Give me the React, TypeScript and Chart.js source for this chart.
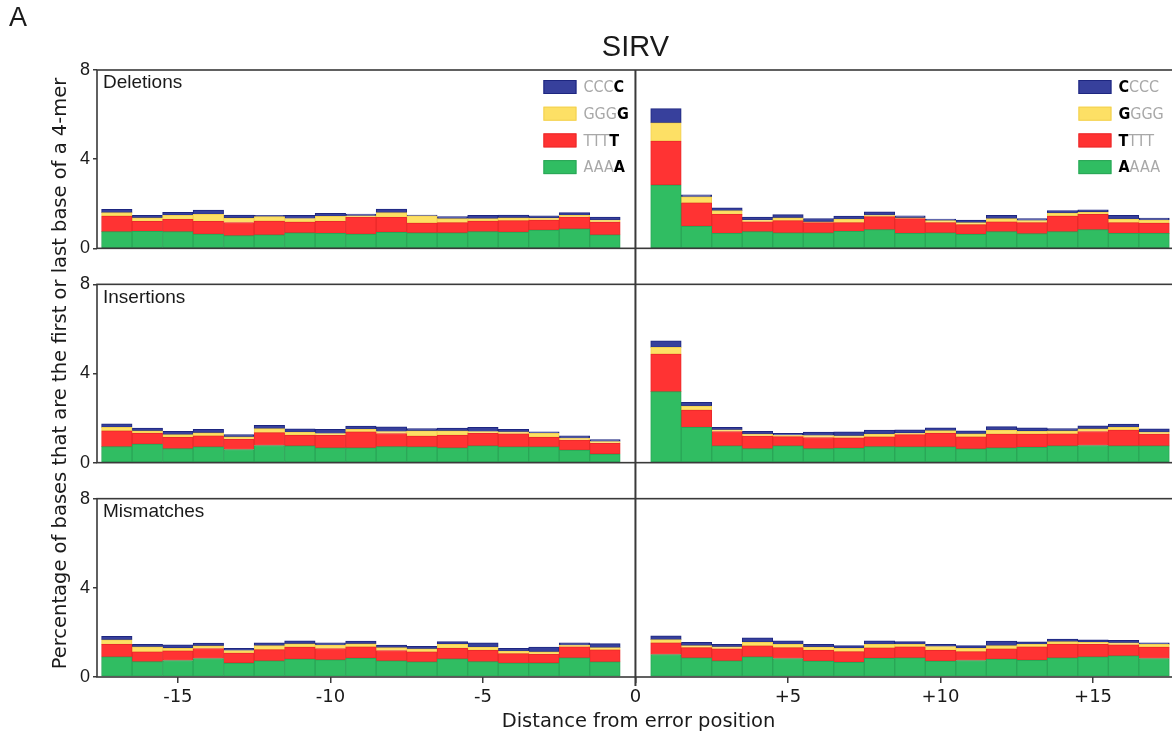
import React, { useEffect, useRef } from 'react';
import { Chart, registerables } from 'chart.js';

Chart.register(...registerables);

// ---------- data ----------
const leftPositions = [-17, -16, -15, -14, -13, -12, -11, -10, -9, -8, -7, -6, -5, -4, -3, -2, -1];
const rightPositions = [1, 2, 3, 4, 5, 6, 7, 8, 9, 10, 11, 12, 13, 14, 15, 16, 17];
const xTickValues = [-15, -10, -5, 0, 5, 10, 15];
const yTickValues = [0, 4, 8];
const panelNames = ['Deletions', 'Insertions', 'Mismatches'];
const baseOrder = ['A', 'T', 'G', 'C'];

// Deletions
const delLeftA = [0.75, 0.76, 0.75, 0.64, 0.57, 0.60, 0.70, 0.67, 0.64, 0.72, 0.70, 0.70, 0.75, 0.73, 0.82, 0.87, 0.60];
const delLeftT = [0.70, 0.45, 0.55, 0.57, 0.59, 0.62, 0.48, 0.54, 0.76, 0.67, 0.43, 0.45, 0.47, 0.51, 0.45, 0.53, 0.58];
const delLeftG = [0.15, 0.16, 0.18, 0.31, 0.20, 0.20, 0.16, 0.22, 0.06, 0.21, 0.33, 0.18, 0.11, 0.13, 0.09, 0.08, 0.09];
const delLeftC = [0.15, 0.11, 0.13, 0.20, 0.13, 0.06, 0.14, 0.14, 0.08, 0.16, 0.03, 0.09, 0.15, 0.12, 0.10, 0.12, 0.13];
const delRightA = [2.84, 0.99, 0.67, 0.75, 0.69, 0.69, 0.76, 0.84, 0.67, 0.69, 0.63, 0.75, 0.66, 0.75, 0.84, 0.67, 0.67];
const delRightT = [1.97, 1.05, 0.85, 0.44, 0.55, 0.46, 0.39, 0.58, 0.66, 0.46, 0.43, 0.44, 0.49, 0.70, 0.68, 0.48, 0.46];
const delRightG = [0.82, 0.27, 0.17, 0.08, 0.13, 0.04, 0.16, 0.07, 0.04, 0.09, 0.09, 0.14, 0.10, 0.13, 0.11, 0.16, 0.14];
const delRightC = [0.64, 0.09, 0.13, 0.13, 0.14, 0.15, 0.14, 0.15, 0.09, 0.07, 0.12, 0.15, 0.09, 0.11, 0.10, 0.17, 0.09];

// Insertions
const insLeftA = [0.72, 0.83, 0.63, 0.71, 0.59, 0.77, 0.75, 0.66, 0.66, 0.72, 0.71, 0.66, 0.75, 0.71, 0.71, 0.56, 0.39];
const insLeftT = [0.71, 0.49, 0.51, 0.49, 0.46, 0.58, 0.48, 0.57, 0.72, 0.59, 0.48, 0.57, 0.57, 0.58, 0.43, 0.45, 0.48];
const insLeftG = [0.15, 0.11, 0.12, 0.14, 0.11, 0.18, 0.14, 0.08, 0.11, 0.09, 0.24, 0.20, 0.08, 0.09, 0.18, 0.09, 0.08];
const insLeftC = [0.16, 0.12, 0.15, 0.16, 0.10, 0.14, 0.15, 0.18, 0.15, 0.21, 0.10, 0.12, 0.19, 0.12, 0.06, 0.10, 0.09];
const insRightA = [3.19, 1.58, 0.75, 0.63, 0.75, 0.63, 0.65, 0.72, 0.71, 0.71, 0.62, 0.66, 0.69, 0.75, 0.77, 0.75, 0.75];
const insRightT = [1.68, 0.78, 0.65, 0.56, 0.42, 0.50, 0.46, 0.44, 0.55, 0.61, 0.54, 0.62, 0.59, 0.54, 0.63, 0.71, 0.53];
const insRightG = [0.30, 0.18, 0.07, 0.09, 0.06, 0.09, 0.09, 0.12, 0.06, 0.12, 0.13, 0.18, 0.13, 0.14, 0.12, 0.12, 0.09];
const insRightC = [0.29, 0.17, 0.11, 0.13, 0.09, 0.15, 0.18, 0.18, 0.15, 0.12, 0.14, 0.16, 0.15, 0.10, 0.13, 0.15, 0.15];

// Mismatches
const misLeftA = [0.90, 0.69, 0.74, 0.83, 0.63, 0.72, 0.80, 0.77, 0.84, 0.72, 0.68, 0.81, 0.69, 0.62, 0.63, 0.86, 0.68];
const misLeftT = [0.56, 0.44, 0.43, 0.45, 0.44, 0.51, 0.54, 0.51, 0.51, 0.47, 0.45, 0.48, 0.51, 0.43, 0.39, 0.49, 0.54];
const misLeftG = [0.21, 0.22, 0.12, 0.12, 0.12, 0.18, 0.15, 0.15, 0.14, 0.13, 0.13, 0.18, 0.14, 0.11, 0.11, 0.08, 0.10];
const misLeftC = [0.15, 0.11, 0.15, 0.12, 0.10, 0.12, 0.13, 0.10, 0.12, 0.11, 0.12, 0.12, 0.19, 0.13, 0.21, 0.10, 0.18];
const misRightA = [1.01, 0.86, 0.72, 0.90, 0.83, 0.71, 0.66, 0.84, 0.86, 0.71, 0.74, 0.80, 0.75, 0.86, 0.90, 0.95, 0.83];
const misRightT = [0.52, 0.46, 0.54, 0.50, 0.49, 0.49, 0.48, 0.47, 0.49, 0.49, 0.40, 0.46, 0.60, 0.61, 0.56, 0.49, 0.51];
const misRightG = [0.15, 0.09, 0.09, 0.16, 0.14, 0.14, 0.15, 0.15, 0.11, 0.17, 0.15, 0.15, 0.11, 0.12, 0.09, 0.09, 0.12];
const misRightC = [0.17, 0.14, 0.11, 0.20, 0.16, 0.12, 0.12, 0.16, 0.13, 0.10, 0.12, 0.20, 0.12, 0.11, 0.12, 0.12, 0.07];

// ---------- styles ----------
const fillColors: Record<string, string> = {
  A: '#30bd62',
  T: '#ff3333',
  G: '#fde065',
  C: '#37409c',
};
const edgeColors: Record<string, string> = {
  A: '#2aa657',
  T: '#ea2a2a',
  G: '#f2d050',
  C: '#1d2680',
};

const panelAxisIds = ['yDel', 'yIns', 'yMis'];
const panelSeries: Record<string, Record<string, number[]>>[] = [
  {
    left: { A: delLeftA, T: delLeftT, G: delLeftG, C: delLeftC },
    right: { A: delRightA, T: delRightT, G: delRightG, C: delRightC },
  },
  {
    left: { A: insLeftA, T: insLeftT, G: insLeftG, C: insLeftC },
    right: { A: insRightA, T: insRightT, G: insRightG, C: insRightC },
  },
  {
    left: { A: misLeftA, T: misLeftT, G: misLeftG, C: misLeftC },
    right: { A: misRightA, T: misRightT, G: misRightG, C: misRightC },
  },
];

const FRAME = '#3a3a3a';
const SANS = '"Liberation Sans", Arial, sans-serif';
const DEJAVU = '"DejaVu Sans", sans-serif';
const COND = '"DejaVu Sans Condensed", "DejaVu Sans", sans-serif';

function buildDatasets() {
  const ds: any[] = [];
  panelSeries.forEach((p, pi) => {
    baseOrder.forEach((b) => {
      const data = leftPositions
        .map((x, i) => ({ x, y: p.left[b][i] }))
        .concat(rightPositions.map((x, i) => ({ x, y: p.right[b][i] })));
      ds.push({
        type: 'bar',
        label: `${panelNames[pi]} ${b}`,
        data,
        xAxisID: 'x',
        yAxisID: panelAxisIds[pi],
        backgroundColor: fillColors[b],
        borderColor: edgeColors[b],
        borderWidth: 1,
        borderSkipped: false,
        grouped: false,
        barPercentage: 1,
        categoryPercentage: 1,
      });
    });
  });
  return ds;
}

const GAP_WEIGHT = 36 / 178.3;

function panelAxis(weight: number, extra: any = {}) {
  return {
    type: 'linear',
    position: 'left',
    stack: 'panels',
    stackWeight: 1,
    weight,
    stacked: true,
    min: 0,
    max: 8,
    afterBuildTicks: (s: any) => {
      s.ticks = yTickValues.map((v) => ({ value: v }));
    },
    ticks: {
      font: { family: SANS, size: 18 },
      color: '#1a1a1a',
      padding: 3,
    },
    grid: {
      drawOnChartArea: false,
      drawTicks: true,
      tickLength: 4,
      color: FRAME,
      lineWidth: 1.5,
    },
    border: { display: false },
    afterFit: (s: any) => {
      s.width = 97;
    },
    ...extra,
  };
}

function gapAxis(weight: number) {
  return {
    type: 'linear',
    position: 'left',
    stack: 'panels',
    stackWeight: GAP_WEIGHT,
    weight,
    ticks: { display: false },
    grid: { display: false },
    border: { display: false },
    afterFit: (s: any) => {
      s.width = 0;
    },
  };
}

const decorPlugin = {
  id: 'decor',
  afterDraw(chart: any) {
    const { ctx, scales } = chart;
    const x = scales.x;
    const x0 = x.getPixelForValue(0);
    ctx.save();

    // panel frames
    ctx.strokeStyle = FRAME;
    ctx.lineWidth = 1.6;
    panelAxisIds.forEach((id) => {
      const y = scales[id];
      ctx.strokeRect(x.left, y.top, x.right - x.left, y.bottom - y.top);
    });

    // center line at 0
    ctx.lineWidth = 2;
    ctx.beginPath();
    ctx.moveTo(x0, scales.yDel.top);
    ctx.lineTo(x0, scales.yMis.bottom + 9);
    ctx.stroke();

    // panel labels
    ctx.fillStyle = '#1a1a1a';
    ctx.font = `19px ${SANS}`;
    ctx.textAlign = 'left';
    ctx.textBaseline = 'middle';
    panelAxisIds.forEach((id, i) => {
      const y = scales[id];
      ctx.fillText(panelNames[i], x.left + 6, y.top + 13);
    });

    // title and panel letter
    ctx.textAlign = 'center';
    ctx.font = `29px ${SANS}`;
    ctx.fillText('SIRV', x0, 48);
    ctx.font = `27px ${SANS}`;
    ctx.fillText('A', 18, 19);

    // legends
    const legendOrder = ['C', 'G', 'T', 'A'];
    const drawLegend = (boxLeft: number, side: 'left' | 'right') => {
      const top = scales.yDel.top;
      legendOrder.forEach((b, i) => {
        const yc = top + 17 + i * 26.7;
        ctx.fillStyle = fillColors[b];
        ctx.fillRect(boxLeft, yc - 7, 33, 14);
        ctx.strokeStyle = edgeColors[b];
        ctx.lineWidth = 1;
        ctx.strokeRect(boxLeft + 0.5, yc - 6.5, 32, 13);
        ctx.textAlign = 'left';
        ctx.textBaseline = 'middle';
        let tx = boxLeft + 40;
        const gray = b + b + b;
        const parts = side === 'left'
          ? [{ t: gray, bold: false }, { t: b, bold: true }]
          : [{ t: b, bold: true }, { t: gray, bold: false }];
        parts.forEach((p) => {
          ctx.font = `${p.bold ? 'bold ' : ''}16px ${COND}`;
          ctx.fillStyle = p.bold ? '#000000' : '#a8a8a8';
          ctx.fillText(p.t, tx, yc + 1);
          tx += ctx.measureText(p.t).width;
        });
      });
    };
    drawLegend(x0 - 92, 'left');
    drawLegend(x0 + 443, 'right');

    ctx.restore();
  },
};

export default function App() {
  const canvasRef = useRef<HTMLCanvasElement | null>(null);

  useEffect(() => {
    const canvas = canvasRef.current;
    if (!canvas) return;
    const chart = new Chart(canvas, {
      type: 'bar',
      data: { datasets: buildDatasets() } as any,
      options: {
        responsive: false,
        maintainAspectRatio: false,
        animation: false,
        devicePixelRatio: 1,
        layout: { padding: { top: 70, left: 0, right: 0, bottom: 0 } },
        plugins: {
          legend: { display: false },
          tooltip: { enabled: false },
          title: { display: false },
        },
        scales: {
          x: {
            type: 'linear',
            position: 'bottom',
            min: -17.65,
            max: 17.85,
            offset: false,
            afterBuildTicks: (s: any) => {
              s.ticks = xTickValues.map((v) => ({ value: v }));
            },
            ticks: {
              autoSkip: false,
              maxRotation: 0,
              font: { family: DEJAVU, size: 18 },
              color: '#1a1a1a',
              padding: 4,
              callback: (v: any) => (Number(v) > 0 ? '+' + v : String(v)),
            },
            grid: {
              offset: false,
              drawOnChartArea: false,
              drawTicks: true,
              tickLength: 6,
              color: FRAME,
              lineWidth: 1.5,
            },
            border: { display: false },
            title: {
              display: true,
              text: 'Distance from error position',
              font: { family: DEJAVU, size: 19.5 },
              color: '#1a1a1a',
              padding: { top: 0, bottom: 4 },
            },
            afterFit: (s: any) => {
              s.height = 61;
            },
          },
          yDel: panelAxis(5),
          gap1: gapAxis(4),
          yIns: panelAxis(3, {
            title: {
              display: true,
              text: 'Percentage of bases that are the first or last base of a 4-mer',
              font: { family: DEJAVU, size: 19.5 },
              color: '#1a1a1a',
              padding: { top: 49, bottom: 0 },
            },
          }),
          gap2: gapAxis(2),
          yMis: panelAxis(1),
        } as any,
      },
      plugins: [decorPlugin],
    });
    return () => chart.destroy();
  }, []);

  return (
    <div
      style={{
        position: 'absolute',
        left: 0,
        top: 0,
        width: 1172,
        height: 738,
        overflow: 'hidden',
        background: '#ffffff',
      }}
    >
      <canvas ref={canvasRef} width={1180} height={738} style={{ display: 'block', width: 1180, height: 738 }} />
    </div>
  );
}
